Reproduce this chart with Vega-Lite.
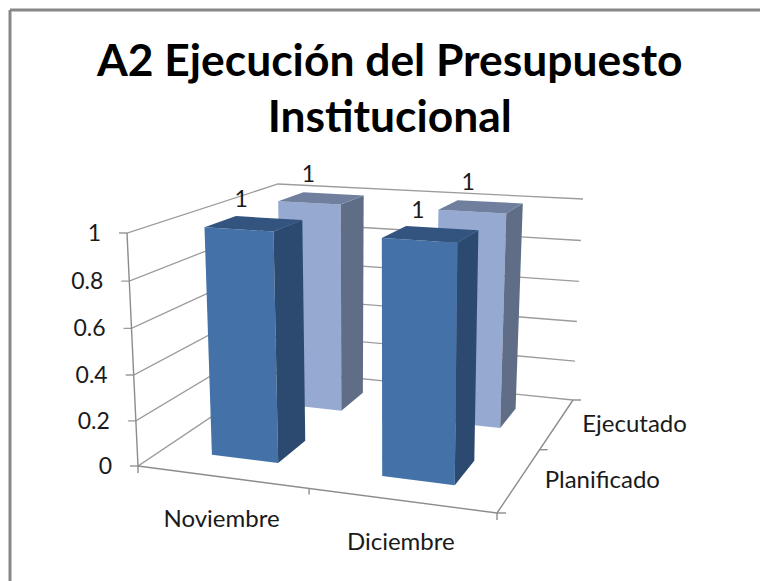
{
"$schema":"https://vega.github.io/schema/vega-lite/v6.json",
"width":750.5,"height":571.5,
"padding":{"left":9.5,"top":9.5,"right":0,"bottom":0},
"autosize":{"type":"none"},
"background":"white",
"view":{"stroke":null},
"config":{"font":"Lato"},
"title":{"text":["A2 Ejecución del Presupuesto","Institucional"],"font":"Lato","fontWeight":"bold","fontSize":44.4,"lineHeight":56,"color":"#000000","anchor":"middle","frame":"group","baseline":"top","offset":0,"dx":5,"dy":132},
"layer":[
{"data":{"values":[{"marca":0},{"marca":0.2},{"marca":0.4},{"marca":0.6},{"marca":0.8},{"marca":1}]},
"transform":[
{"calculate":"[{s:0,t:0,px:-8,py:0,i:0},{s:0,t:0,px:0,py:0,i:1},{s:0,t:1,px:0,py:0,i:2},{s:1,t:1,px:0,py:0,i:3}]","as":"v"},
{"flatten":["v"]},
{"calculate":"datum.marca*0.9613/(1-0.0387*datum.marca)","as":"wp"},
{"calculate":"1-0.09*datum.v.s+0.25*datum.v.t","as":"den"},
{"calculate":"((314.3+14.5*datum.wp)*datum.v.s+(212.4+8.1*datum.wp)*datum.v.t+138-11*datum.wp)/datum.den+datum.v.px","as":"X"},
{"calculate":"((0.83+0.01*datum.wp)*datum.v.s+(-2.83-0.17*datum.wp)*datum.v.t+466-233*datum.wp)/datum.den+datum.v.py","as":"Y"}
],
"mark":{"type":"line","stroke":"#9c9c9c","strokeWidth":1.3,"interpolate":"linear"},
"encoding":{
"x":{"field":"X","type":"quantitative","scale":{"domain":[9.5,760],"zero":false,"nice":false},"axis":{"orient":"top","labels":false,"ticks":false,"grid":false,"title":null,"domainColor":"#878787","domainWidth":3}},
"y":{"field":"Y","type":"quantitative","scale":{"domain":[9.5,581],"reverse":true,"zero":false,"nice":false},"axis":{"orient":"left","labels":false,"ticks":false,"grid":false,"title":null,"domainColor":"#878787","domainWidth":3}},
"detail":{"field":"marca"},
"order":{"field":"v.i","type":"quantitative"}
}},
{"data":{"values":[{"ejes":"valor y categoria"}]},
"transform":[
{"calculate":"[{l:'a',s:0,t:0,w:0,px:0,py:0,i:0},{l:'a',s:0,t:0,w:1,px:0,py:0,i:1},{l:'b',s:0,t:0,w:0,px:0,py:0,i:0},{l:'b',s:1,t:0,w:0,px:0,py:0,i:1},{l:'c',s:1,t:0,w:0,px:0,py:0,i:0},{l:'c',s:1,t:1,w:0,px:0,py:0,i:1},{l:'d',s:0,t:0,w:0,px:0,py:0,i:0},{l:'d',s:0,t:0,w:0,px:0,py:7,i:1},{l:'e',s:0.5,t:0,w:0,px:0,py:0,i:0},{l:'e',s:0.5,t:0,w:0,px:0,py:6,i:1},{l:'f',s:1,t:0,w:0,px:0,py:0,i:0},{l:'f',s:1,t:0,w:0,px:0,py:7,i:1},{l:'g',s:1,t:0,w:0,px:0,py:0,i:0},{l:'g',s:1,t:0,w:0,px:9,py:0,i:1},{l:'h',s:1,t:0.5,w:0,px:0,py:0,i:0},{l:'h',s:1,t:0.5,w:0,px:8,py:0,i:1},{l:'j',s:1,t:1,w:0,px:0,py:0,i:0},{l:'j',s:1,t:1,w:0,px:8,py:0,i:1}]","as":"v"},
{"flatten":["v"]},
{"calculate":"1-0.09*datum.v.s+0.25*datum.v.t","as":"den"},
{"calculate":"((314.3+14.5*datum.v.w)*datum.v.s+(212.4+8.1*datum.v.w)*datum.v.t+138-11*datum.v.w)/datum.den+datum.v.px","as":"X"},
{"calculate":"((0.83+0.01*datum.v.w)*datum.v.s+(-2.83-0.17*datum.v.w)*datum.v.t+466-233*datum.v.w)/datum.den+datum.v.py","as":"Y"}
],
"mark":{"type":"line","stroke":"#8c8c8c","strokeWidth":1.4},
"encoding":{
"x":{"field":"X","type":"quantitative"},
"y":{"field":"Y","type":"quantitative"},
"detail":{"field":"v.l"},
"order":{"field":"v.i","type":"quantitative"}
}},
{"data":{"values":[
{"mes":"Noviembre","serie":"Ejecutado","valor":1},
{"mes":"Diciembre","serie":"Ejecutado","valor":1},
{"mes":"Noviembre","serie":"Planificado","valor":1},
{"mes":"Diciembre","serie":"Planificado","valor":1}
]},
"transform":[
{"calculate":"[{f:'frente',i:0,a:0,b:0,c:0},{f:'frente',i:1,a:1,b:0,c:0},{f:'frente',i:2,a:1,b:0,c:1},{f:'frente',i:3,a:0,b:0,c:1},{f:'lado',i:0,a:1,b:0,c:0},{f:'lado',i:1,a:1,b:1,c:0},{f:'lado',i:2,a:1,b:1,c:1},{f:'lado',i:3,a:1,b:0,c:1},{f:'tapa',i:0,a:0,b:0,c:1},{f:'tapa',i:1,a:1,b:0,c:1},{f:'tapa',i:2,a:1,b:1,c:1},{f:'tapa',i:3,a:0,b:1,c:1}]","as":"v"},
{"flatten":["v"]},
{"calculate":"(datum.mes==='Noviembre'?0:0.5)+0.15+0.2*datum.v.a","as":"s"},
{"calculate":"(datum.serie==='Planificado'?0:0.5)+0.15+0.2*datum.v.b","as":"t"},
{"calculate":"datum.valor*datum.v.c","as":"w"},
{"calculate":"1-0.09*datum.s+0.25*datum.t","as":"den"},
{"calculate":"((314.3+14.5*datum.w)*datum.s+(212.4+8.1*datum.w)*datum.t+138-11*datum.w)/datum.den","as":"X"},
{"calculate":"((0.83+0.01*datum.w)*datum.s+(-2.83-0.17*datum.w)*datum.t+466-233*datum.w)/datum.den","as":"Y"},
{"calculate":"datum.serie+' '+datum.v.f","as":"cara"},
{"calculate":"datum.mes+' '+datum.serie+' '+datum.v.f","as":"pieza"}
],
"mark":{"type":"line","stroke":null,"strokeWidth":0},
"encoding":{
"x":{"field":"X","type":"quantitative"},
"y":{"field":"Y","type":"quantitative"},
"fill":{"field":"cara","type":"nominal","legend":null,"scale":{"domain":["Planificado frente","Planificado lado","Planificado tapa","Ejecutado frente","Ejecutado lado","Ejecutado tapa"],"range":["#4472A8","#2C4A70","#33547F","#95A9D1","#5F6E86","#707F9E"]}},
"detail":{"field":"pieza"},
"order":{"field":"v.i","type":"quantitative"}
}},
{"data":{"values":[
{"mes":"Noviembre","serie":"Ejecutado","valor":1},
{"mes":"Diciembre","serie":"Ejecutado","valor":1},
{"mes":"Noviembre","serie":"Planificado","valor":1},
{"mes":"Diciembre","serie":"Planificado","valor":1}
]},
"transform":[
{"calculate":"(datum.mes==='Noviembre'?0:0.5)+0.25","as":"s"},
{"calculate":"(datum.serie==='Planificado'?0:0.5)+0.25","as":"t"},
{"calculate":"1-0.09*datum.s+0.25*datum.t","as":"den"},
{"calculate":"(328.8*datum.s+220.5*datum.t+127)/datum.den","as":"X"},
{"calculate":"(0.84*datum.s-3*datum.t+233)/datum.den","as":"Y"}
],
"mark":{"type":"text","font":"Lato","fontSize":23,"color":"#1a1a1a","dx":-13,"dy":-23.5,"align":"center","baseline":"middle"},
"encoding":{
"x":{"field":"X","type":"quantitative"},
"y":{"field":"Y","type":"quantitative"},
"text":{"field":"valor","type":"quantitative"}
}},
{"data":{"values":[{"marca":0},{"marca":0.2},{"marca":0.4},{"marca":0.6},{"marca":0.8},{"marca":1}]},
"transform":[
{"calculate":"datum.marca*0.9613/(1-0.0387*datum.marca)","as":"wp"},
{"calculate":"138-11*datum.wp","as":"X"},
{"calculate":"466-233*datum.wp","as":"Y"}
],
"mark":{"type":"text","font":"Lato","fontSize":23,"color":"#1a1a1a","dx":-26,"dy":1,"align":"right","baseline":"middle"},
"encoding":{
"x":{"field":"X","type":"quantitative"},
"y":{"field":"Y","type":"quantitative"},
"text":{"field":"marca","type":"quantitative"}
}},
{"data":{"values":[{"mes":"Noviembre"},{"mes":"Diciembre"}]},
"transform":[
{"calculate":"datum.mes==='Noviembre'?0.25:0.75","as":"s"},
{"calculate":"1-0.09*datum.s","as":"den"},
{"calculate":"(314.3*datum.s+138)/datum.den","as":"X"},
{"calculate":"(0.83*datum.s+466)/datum.den","as":"Y"}
],
"mark":{"type":"text","font":"Lato","fontSize":24,"color":"#1a1a1a","dy":43,"align":"center","baseline":"middle"},
"encoding":{
"x":{"field":"X","type":"quantitative"},
"y":{"field":"Y","type":"quantitative"},
"text":{"field":"mes","type":"nominal"}
}},
{"data":{"values":[{"serie":"Planificado"},{"serie":"Ejecutado"}]},
"transform":[
{"calculate":"datum.serie==='Planificado'?0.25:0.75","as":"t"},
{"calculate":"0.91+0.25*datum.t","as":"den"},
{"calculate":"(452.3+212.4*datum.t)/datum.den","as":"X"},
{"calculate":"(466.83-2.83*datum.t)/datum.den","as":"Y"}
],
"mark":{"type":"text","font":"Lato","fontSize":24,"color":"#1a1a1a","dx":25,"dy":2,"align":"left","baseline":"middle"},
"encoding":{
"x":{"field":"X","type":"quantitative"},
"y":{"field":"Y","type":"quantitative"},
"text":{"field":"serie","type":"nominal"}
}}
]
}
